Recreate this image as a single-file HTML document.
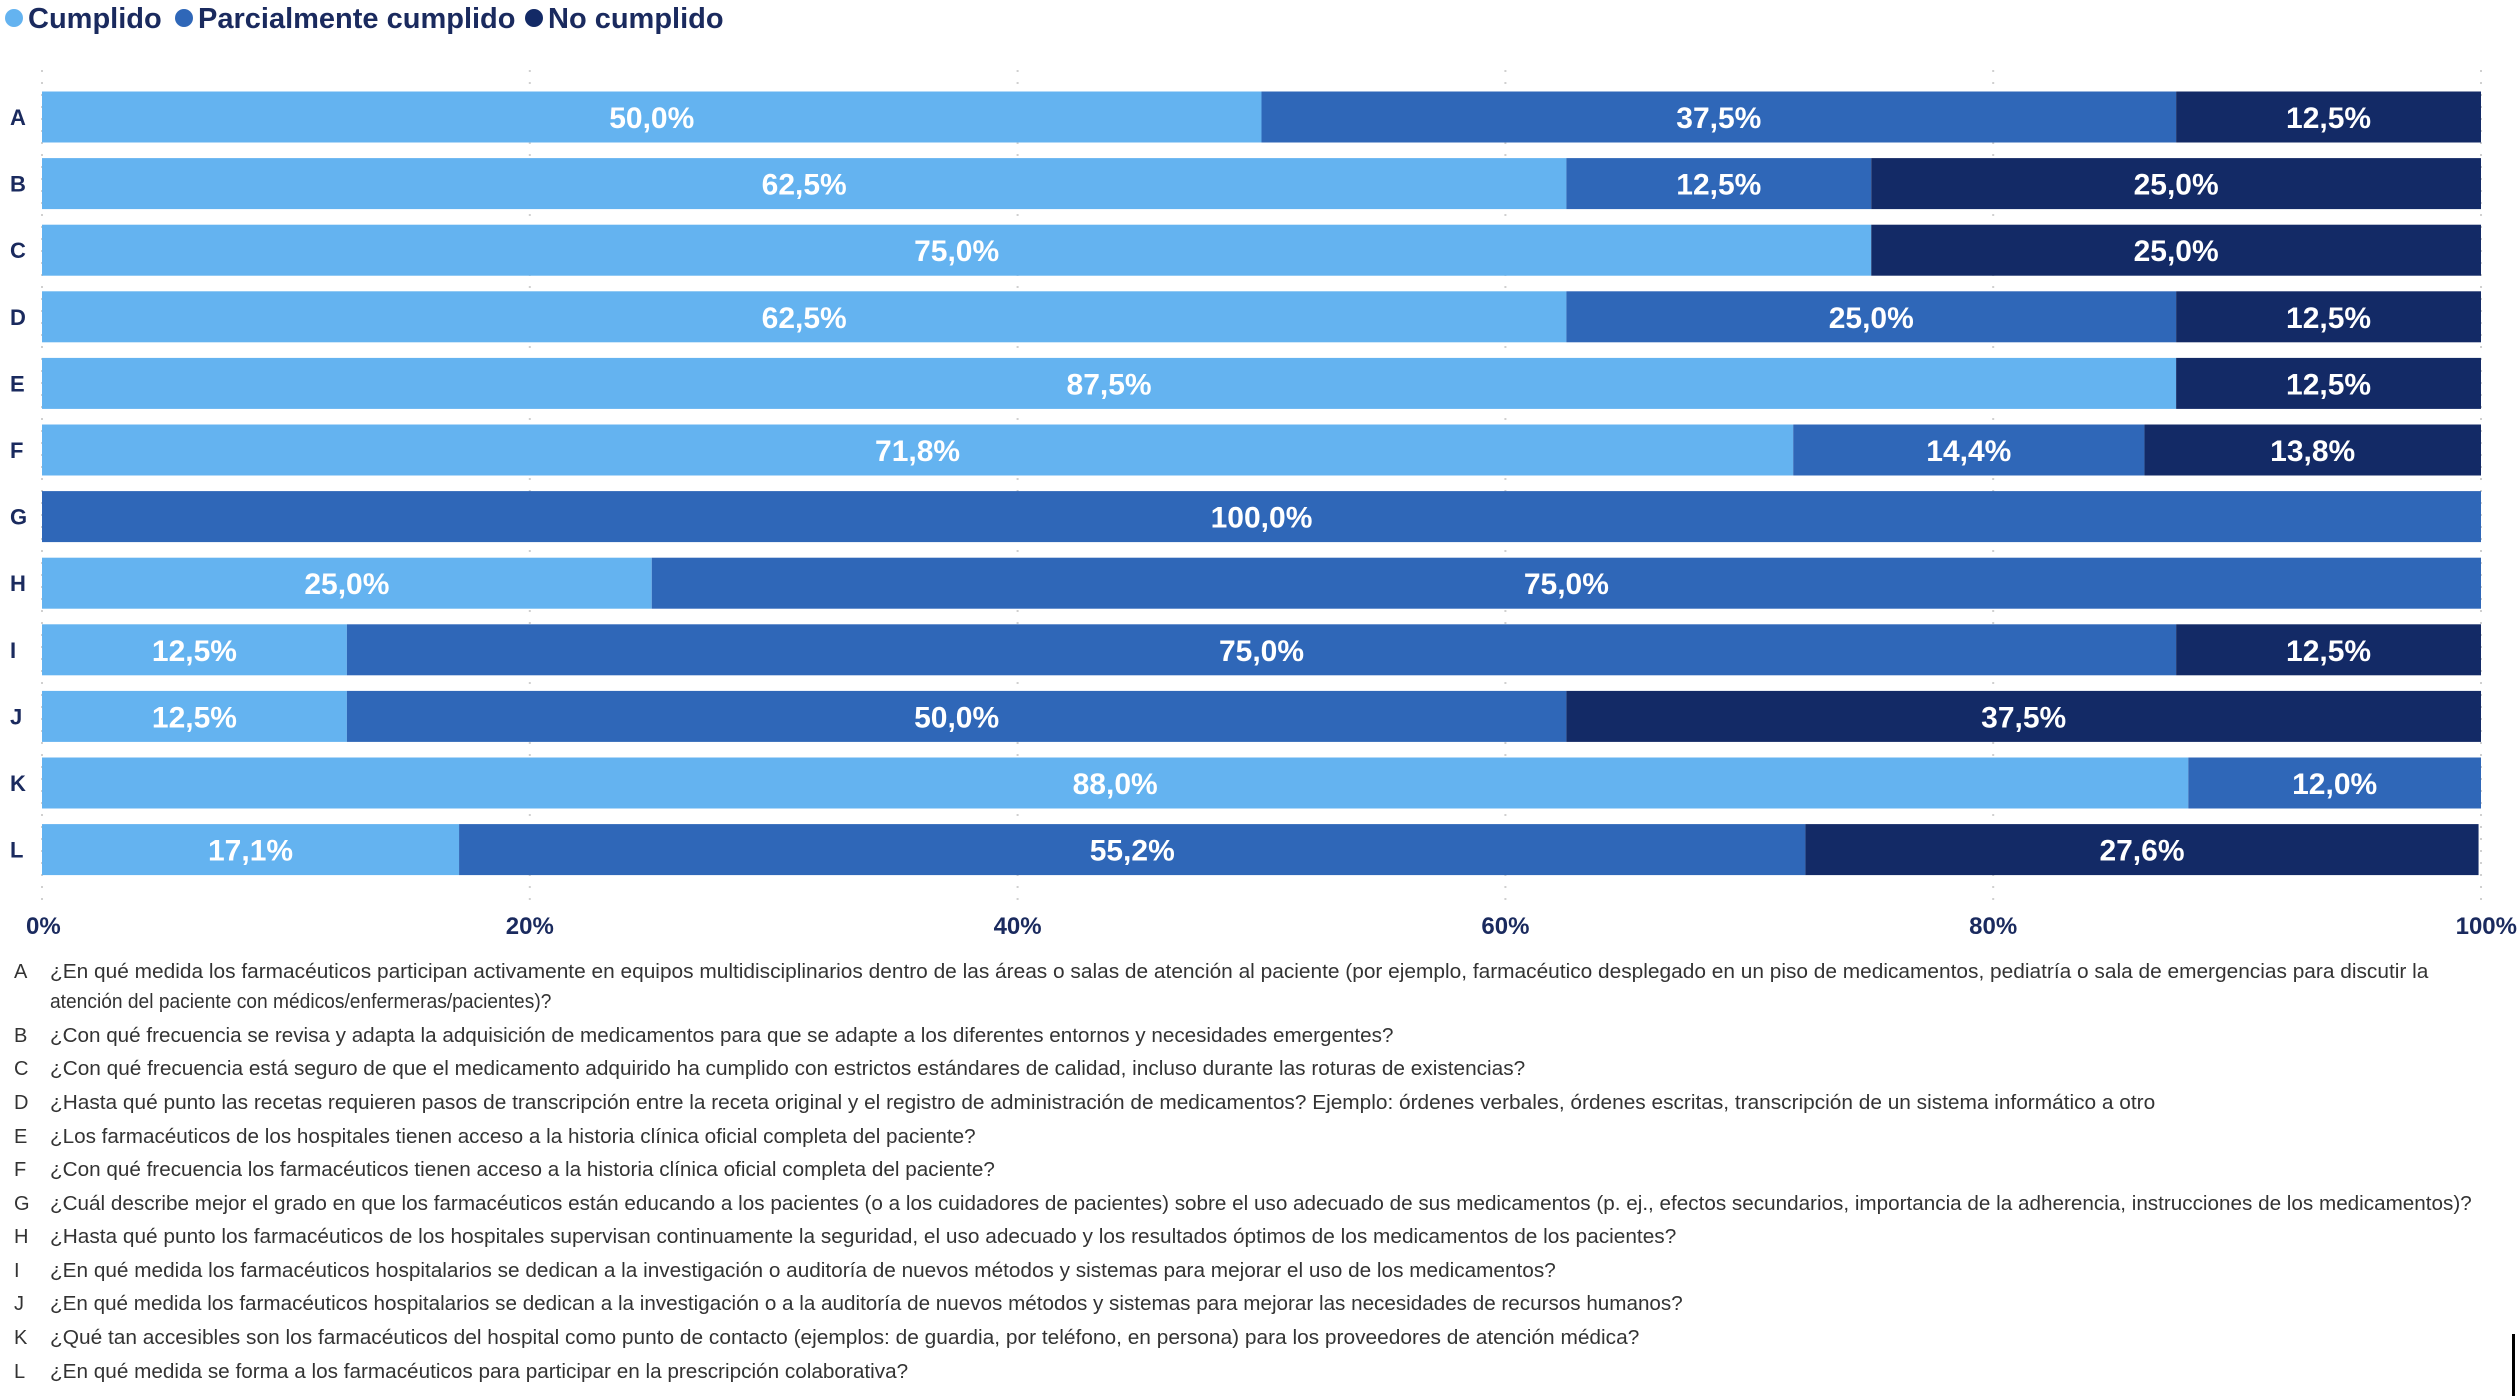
<!DOCTYPE html>
<html><head><meta charset="utf-8"><style>
html,body{margin:0;padding:0;background:#fff;}
svg{display:block;font-family:"Liberation Sans",sans-serif;}
</style></head><body>
<svg id="chart" width="2520" height="1399" viewBox="0 0 2520 1399" xmlns="http://www.w3.org/2000/svg">
<g>
 <circle cx="14" cy="18" r="9" fill="#64B3F0"/>
 <text x="28" y="28" font-size="29" font-weight="bold" fill="#1a2a5e">Cumplido</text>
 <circle cx="184" cy="18" r="9" fill="#2F67B8"/>
 <text x="198" y="28" font-size="29" font-weight="bold" fill="#1a2a5e">Parcialmente cumplido</text>
 <circle cx="534" cy="18" r="9" fill="#132A66"/>
 <text x="548" y="28" font-size="29" font-weight="bold" fill="#1a2a5e">No cumplido</text>
</g>
<g id="grid"></g>
<g id="bars"></g>
<g id="axis"></g>
<g id="notes"></g>
<rect x="2512" y="1334" width="3" height="62" fill="#000"/>
</svg>
<script>
const categories = ["A","B","C","D","E","F","G","H","I","J","K","L"];
const cumplido = [50.0,62.5,75.0,62.5,87.5,71.8,0,25.0,12.5,12.5,88.0,17.1];
const parcial = [37.5,12.5,0,25.0,0,14.4,100.0,75.0,75.0,50.0,12.0,55.2];
const noCumplido = [12.5,25.0,25.0,12.5,12.5,13.8,0,0,12.5,37.5,0,27.6];
const ticks = [0,20,40,60,80,100];
const questions = [
 ["A","¿En qué medida los farmacéuticos participan activamente en equipos multidisciplinarios dentro de las áreas o salas de atención al paciente (por ejemplo, farmacéutico desplegado en un piso de medicamentos, pediatría o sala de emergencias para discutir la","atención del paciente con médicos/enfermeras/pacientes)?"],
 ["B","¿Con qué frecuencia se revisa y adapta la adquisición de medicamentos para que se adapte a los diferentes entornos y necesidades emergentes?"],
 ["C","¿Con qué frecuencia está seguro de que el medicamento adquirido ha cumplido con estrictos estándares de calidad, incluso durante las roturas de existencias?"],
 ["D","¿Hasta qué punto las recetas requieren pasos de transcripción entre la receta original y el registro de administración de medicamentos? Ejemplo: órdenes verbales, órdenes escritas, transcripción de un sistema informático a otro"],
 ["E","¿Los farmacéuticos de los hospitales tienen acceso a la historia clínica oficial completa del paciente?"],
 ["F","¿Con qué frecuencia los farmacéuticos tienen acceso a la historia clínica oficial completa del paciente?"],
 ["G","¿Cuál describe mejor el grado en que los farmacéuticos están educando a los pacientes (o a los cuidadores de pacientes) sobre el uso adecuado de sus medicamentos (p. ej., efectos secundarios, importancia de la adherencia, instrucciones de los medicamentos)?"],
 ["H","¿Hasta qué punto los farmacéuticos de los hospitales supervisan continuamente la seguridad, el uso adecuado y los resultados óptimos de los medicamentos de los pacientes?"],
 ["I","¿En qué medida los farmacéuticos hospitalarios se dedican a la investigación o auditoría de nuevos métodos y sistemas para mejorar el uso de los medicamentos?"],
 ["J","¿En qué medida los farmacéuticos hospitalarios se dedican a la investigación o a la auditoría de nuevos métodos y sistemas para mejorar las necesidades de recursos humanos?"],
 ["K","¿Qué tan accesibles son los farmacéuticos del hospital como punto de contacto (ejemplos: de guardia, por teléfono, en persona) para los proveedores de atención médica?"],
 ["L","¿En qué medida se forma a los farmacéuticos para participar en la prescripción colaborativa?"]
];
const NS="http://www.w3.org/2000/svg";
const X0=42,X1=2481,Y0=117,PITCH=66.6,BH=51;
const x=v=>X0+(X1-X0)*v/100;
const y=i=>Y0+PITCH*i;
function mk(tag,attrs,parent){const e=document.createElementNS(NS,tag);for(const k in attrs)e.setAttribute(k,attrs[k]);parent.appendChild(e);return e;}
const grid=document.getElementById('grid'),bars=document.getElementById('bars'),axis=document.getElementById('axis'),notes=document.getElementById('notes');
ticks.forEach(t=>{
 const l=mk('line',{x1:x(t),x2:x(t),y1:70,y2:905,stroke:'#d0d0d0','stroke-width':2,'stroke-dasharray':'2,10'},grid);
 
 
 const tx=mk('text',{x:x(t),y:934,'font-size':24,'font-weight':'bold',fill:'#1a2a5e','text-anchor':t===0?'start':(t===100?'end':'middle')},axis);
 tx.textContent=t+'%';
 if(t===0)tx.setAttribute('x',x(t)-16);
 if(t===100)tx.setAttribute('x',x(t)+36);
 
 
});
const series=[[cumplido,'#64B3F0','cumplido'],[parcial,'#2F67B8','parcial'],[noCumplido,'#132A66','no-cumplido']];
categories.forEach((c,i)=>{
 const cl=mk('text',{x:10,y:y(i)+8,'font-size':22,'font-weight':'bold',fill:'#1a2a5e'},axis);
 cl.textContent=c;
 
 
 let acc=0;
 series.forEach(([arr,col,nm])=>{
  const v=arr[i];
  if(v>0){
   const r=mk('rect',{x:x(acc),y:y(i)-BH/2,width:x(acc+v)-x(acc),height:BH,fill:col},bars);
   
   
   const t=mk('text',{x:(x(acc)+x(acc+v))/2,y:y(i)+11,'font-size':30,'font-weight':'bold',fill:'#fff','text-anchor':'middle'},bars);
   t.textContent=v.toFixed(1).replace('.',',')+'%';
   
   
  }
  acc+=v;
 });
});
const lineYs=[978,1008,1042,1075,1109,1143,1176,1210,1243,1277,1310,1344,1378];
const ends=[1511,343,867,949,1341,607,619,1538,1043,968,1047,1020,565];
let li=0;
questions.forEach(q=>{
 const lt=mk('text',{x:14,y:lineYs[li],'font-size':20,fill:'#333'},notes);
 lt.textContent=q[0];
 
 
 for(let k=1;k<q.length;k++){
  const t=mk('text',{x:50,y:lineYs[li],'font-size':20,fill:'#333',textLength:(ends[li]-31)*1.607,lengthAdjust:'spacingAndGlyphs'},notes);
  t.textContent=q[k];
  
  
  li++;
 }
});
</script>
</body></html>
